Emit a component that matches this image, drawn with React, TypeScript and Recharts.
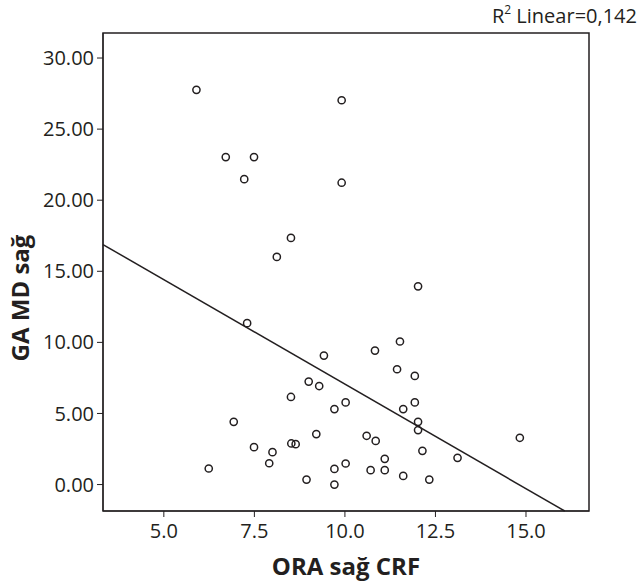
import React from 'react';
import { ScatterChart, Scatter, XAxis, YAxis, ReferenceLine, ReferenceArea } from 'recharts';

// ORA sağ CRF (x) / GA MD sağ (y)
const oraCRF = [
  5.9, 9.91, 6.71, 7.49, 7.22, 9.91, 8.51, 8.12, 12.02, 7.3, 11.52, 10.83, 9.42, 11.44, 11.93, 9.0,
  9.29, 8.51, 10.02, 11.93, 9.71, 11.61, 6.93, 12.02, 12.02, 9.21, 10.6, 10.85, 14.83, 8.52, 8.64,
  7.49, 12.14, 8.0, 13.11, 11.1, 7.91, 10.02, 6.24, 9.71, 10.71, 11.1, 11.61, 8.94, 12.33, 9.71,
];
const gaMD = [
  27.76, 27.03, 23.03, 23.03, 21.48, 21.23, 17.35, 16.01, 13.94, 11.35, 10.06, 9.42, 9.07, 8.11, 7.64,
  7.24, 6.93, 6.16, 5.78, 5.78, 5.31, 5.31, 4.41, 4.41, 3.83, 3.55, 3.43, 3.07, 3.29, 2.89, 2.84, 2.63,
  2.37, 2.28, 1.88, 1.81, 1.5, 1.48, 1.13, 1.1, 1.01, 1.01, 0.61, 0.35, 0.35, 0.0,
];

// linear fit line end points
const fitX = [3.32, 16.07];
const fitY = [16.88, -1.86];

const xDomain = [3.32, 16.74];
const yDomain = [-1.86, 31.76];
const xTicks = [5, 7.5, 10, 12.5, 15];
const yTicks = [0, 5, 10, 15, 20, 25, 30];

const points = oraCRF.map((x, i) => ({ x, y: gaMD[i] }));

const font = '"Open Sans", sans-serif';
const ink = '#231f20';

const Marker = (props: any) => (
  <circle cx={props.cx} cy={props.cy} r={3.6} fill="none" stroke={ink} strokeWidth={1.5} />
);

const App: React.FC = () => {
  return (
    <div style={{ position: 'absolute', left: 0, top: 0, width: 640, height: 585, background: '#fff' }}>
      <ScatterChart width={640} height={585} margin={{ top: 33, right: 51, bottom: 0, left: 0 }}>
        <XAxis
          type="number"
          dataKey="x"
          domain={xDomain}
          ticks={xTicks}
          allowDataOverflow
          tickFormatter={(v: number) => v.toFixed(1)}
          height={74}
          tickSize={6}
          tickMargin={7}
          stroke={ink}
          tick={{ fill: ink, fontSize: 20, fontFamily: font }}
          label={() => (
            <text x={346} y={575} textAnchor="middle" fill={ink} fontSize={24} fontWeight={700} fontFamily={font}>
              ORA sağ CRF
            </text>
          )}
        />
        <YAxis
          type="number"
          dataKey="y"
          domain={yDomain}
          ticks={yTicks}
          allowDataOverflow
          tickFormatter={(v: number) => v.toFixed(2)}
          width={103}
          tickSize={6}
          tickMargin={3}
          stroke={ink}
          tick={{ fill: ink, fontSize: 20, fontFamily: font }}
          label={() => (
            <text
              x={29}
              y={298}
              transform="rotate(-90 29 298)"
              textAnchor="middle"
              fill={ink}
              fontSize={24}
              fontWeight={700}
              fontFamily={font}
            >
              GA MD sağ
            </text>
          )}
        />
        <ReferenceArea
          x1={xDomain[0]}
          x2={xDomain[1]}
          y1={yDomain[0]}
          y2={yDomain[1]}
          fill="none"
          stroke={ink}
          strokeWidth={1.5}
        />
        <ReferenceLine
          segment={[
            { x: fitX[0], y: fitY[0] },
            { x: fitX[1], y: fitY[1] },
          ]}
          stroke={ink}
          strokeWidth={1.5}
        />
        <Scatter data={points} shape={Marker} isAnimationActive={false} />
      </ScatterChart>
      <div
        style={{
          position: 'absolute',
          right: 3,
          top: 3,
          fontFamily: font,
          fontSize: 20,
          color: ink,
          lineHeight: '26px',
        }}
      >
        R<sup style={{ fontSize: 12, verticalAlign: 'top', lineHeight: '14px' }}>2</sup> Linear=0,142
      </div>
    </div>
  );
};

export default App;
